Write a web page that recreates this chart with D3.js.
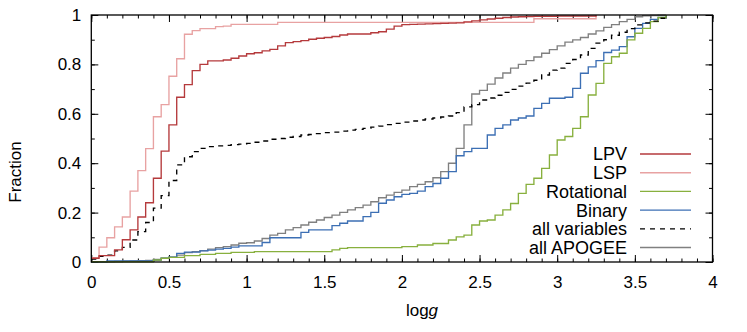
<!DOCTYPE html>
<html>
<head>
<meta charset="utf-8">
<script src="https://cdn.jsdelivr.net/npm/d3@7"></script>
<style>
  body { margin: 0; background: #fff; }
  svg { font-family: "Liberation Sans", Arial, sans-serif; }
  .axis path { display: none; }
  .axis line { stroke: #000; stroke-width: 1; }
  .axis text { font-size: 17px; fill: #000; }
</style>
</head>
<body>
<div id="chart"></div>
<script>
// bin edges in log g (step of 0.05)
var logg = [0,0.05,0.1,0.15,0.2,0.25,0.3,0.35,0.4,0.45,0.5,0.55,0.6,0.65,0.7,0.75,0.8,0.85,0.9,0.95,
  1,1.05,1.1,1.15,1.2,1.25,1.3,1.35,1.4,1.45,1.5,1.55,1.6,1.65,1.7,1.75,1.8,1.85,1.9,1.95,
  2,2.05,2.1,2.15,2.2,2.25,2.3,2.35,2.4,2.45,2.5,2.55,2.6,2.65,2.7,2.75,2.8,2.85,2.9,2.95,
  3,3.05,3.1,3.15,3.2,3.25,3.3,3.35,3.4,3.45,3.5,3.55,3.6,3.65,3.7];

var lpv = [0.015,0.026,0.026,0.049,0.09,0.13,0.182,0.24,0.339,0.449,0.555,0.667,0.718,0.775,0.8,0.814,0.814,0.818,0.825,0.834,
  0.843,0.847,0.855,0.861,0.875,0.888,0.892,0.896,0.902,0.906,0.909,0.913,0.919,0.923,0.923,0.923,0.928,0.932,0.943,0.955,
  0.961,0.962,0.963,0.964,0.965,0.966,0.967,0.968,0.972,0.976,0.98,0.984,0.987,0.99,0.992,0.993,0.994,0.995,0.995,0.995,
  0.996,0.996,0.996,0.996,0.996,1,null,null,null,null,null,null,null,null,null];

var lsp = [0.018,0.06,0.098,0.142,0.182,0.287,0.37,0.459,0.588,0.637,0.752,0.823,0.922,0.937,0.945,0.945,0.953,0.955,0.962,0.962,
  0.962,0.962,0.962,0.962,0.97,0.97,0.97,0.97,0.97,0.97,0.97,0.97,0.97,0.97,0.97,0.97,0.97,0.97,0.97,0.97,
  0.97,0.97,0.97,0.97,0.97,0.97,0.97,0.97,0.97,0.97,0.97,0.97,0.97,0.97,0.97,0.97,0.97,0.985,0.985,0.985,
  0.985,0.985,0.985,0.985,0.985,1,null,null,null,null,null,null,null,null,null];

var rotational = [0.001,0.001,0.001,0.001,0.001,0.001,0.001,0.001,0.008,0.015,0.019,0.019,0.026,0.026,0.031,0.031,0.035,0.035,0.039,0.039,
  0.039,0.042,0.042,0.042,0.042,0.042,0.042,0.042,0.042,0.042,0.042,0.049,0.055,0.058,0.058,0.058,0.058,0.058,0.058,0.058,
  0.062,0.062,0.069,0.069,0.075,0.075,0.089,0.102,0.109,0.15,0.166,0.17,0.19,0.211,0.237,0.278,0.314,0.339,0.379,0.433,
  0.494,0.508,0.541,0.588,0.676,0.723,0.804,0.831,0.845,0.899,0.926,0.946,0.973,0.99,1];

var binary = [0,0,0.004,0.004,0.004,0.004,0.004,0.004,0.008,0.015,0.02,0.035,0.04,0.04,0.045,0.048,0.052,0.055,0.06,0.065,
  0.065,0.065,0.079,0.098,0.098,0.098,0.098,0.12,0.13,0.13,0.13,0.147,0.157,0.166,0.166,0.184,0.201,0.238,0.251,0.264,
  0.274,0.278,0.287,0.305,0.318,0.339,0.366,0.43,0.447,0.46,0.46,0.514,0.541,0.555,0.575,0.583,0.591,0.622,0.642,0.663,
  0.663,0.667,0.703,0.764,0.79,0.815,0.848,0.858,0.872,0.912,0.946,0.966,0.982,0.99,1];

var allVariables = [0.012,0.023,0.028,0.045,0.059,0.089,0.123,0.16,0.218,0.269,0.33,0.393,0.426,0.447,0.46,0.467,0.47,0.472,0.475,0.477,
  0.48,0.485,0.49,0.497,0.5,0.505,0.508,0.514,0.516,0.52,0.524,0.526,0.53,0.534,0.537,0.541,0.546,0.55,0.556,0.561,
  0.566,0.571,0.575,0.579,0.583,0.587,0.591,0.605,0.628,0.637,0.656,0.664,0.675,0.687,0.699,0.712,0.724,0.736,0.757,0.777,
  0.785,0.804,0.82,0.838,0.865,0.886,0.9,0.918,0.93,0.945,0.96,0.968,0.975,0.987,1];

var allApogee = [null,null,0.001,0.002,0.003,0.004,0.005,0.006,0.01,0.015,0.02,0.028,0.038,0.042,0.046,0.052,0.058,0.062,0.069,0.076,
  0.078,0.085,0.095,0.109,0.116,0.13,0.139,0.15,0.161,0.17,0.18,0.19,0.201,0.211,0.22,0.23,0.244,0.26,0.271,0.282,
  0.291,0.305,0.314,0.325,0.341,0.366,0.4,0.46,0.555,0.68,0.695,0.72,0.745,0.765,0.785,0.8,0.815,0.83,0.845,0.86,
  0.875,0.89,0.899,0.909,0.923,0.936,0.95,0.961,0.973,0.982,0.993,0.997,0.998,0.999,1];

var xTicks = [0,0.5,1,1.5,2,2.5,3,3.5,4];
var yTicks = [0,0.2,0.4,0.6,0.8,1];

var series = [
  {name: "all APOGEE", values: allApogee, color: "#808080", dash: null},
  {name: "Binary", values: binary, color: "#3c6fb4", dash: null},
  {name: "Rotational", values: rotational, color: "#88b03e", dash: null},
  {name: "all variables", values: allVariables, color: "#000", dash: "5,5"},
  {name: "LSP", values: lsp, color: "#e8a2a2", dash: null},
  {name: "LPV", values: lpv, color: "#b53a3c", dash: null}
];
var legendOrder = ["LPV", "LSP", "Rotational", "Binary", "all variables", "all APOGEE"];

var W = 747, H = 332;
var margin = {top: 15, right: 34.5, bottom: 70, left: 91.3},
    width = W - margin.left - margin.right,
    height = H - margin.top - margin.bottom;

var svg = d3.select("#chart").append("svg")
    .attr("width", W)
    .attr("height", H);

var g = svg.append("g")
    .attr("transform", "translate(" + margin.left + "," + margin.top + ")");

var x = d3.scaleLinear().domain([0, 4]).range([0, width]);
var y = d3.scaleLinear().domain([0, 1]).range([height, 0]);

var xMinor = d3.range(0, 4.01, 0.1).map(function(d) { return +d.toFixed(1); });
var yMinor = d3.range(0, 1.01, 0.1).map(function(d) { return +d.toFixed(1); });

// minor ticks, all four sides, pointing in
g.append("g").attr("class", "axis").attr("transform", "translate(0," + height + ")")
  .call(d3.axisBottom(x).tickValues(xMinor).tickSize(-3.5).tickFormat(""));
g.append("g").attr("class", "axis")
  .call(d3.axisTop(x).tickValues(xMinor).tickSize(-3.5).tickFormat(""));
g.append("g").attr("class", "axis")
  .call(d3.axisLeft(y).tickValues(yMinor).tickSize(-3.5).tickFormat(""));
g.append("g").attr("class", "axis").attr("transform", "translate(" + width + ",0)")
  .call(d3.axisRight(y).tickValues(yMinor).tickSize(-3.5).tickFormat(""));

// major ticks with labels
g.append("g").attr("class", "axis").attr("transform", "translate(0," + height + ")")
  .call(d3.axisBottom(x).tickValues(xTicks).tickSize(-7).tickPadding(14).tickFormat(d3.format("")));
g.append("g").attr("class", "axis")
  .call(d3.axisTop(x).tickValues(xTicks).tickSize(-7).tickFormat(""));
g.append("g").attr("class", "axis")
  .call(d3.axisLeft(y).tickValues(yTicks).tickSize(-7).tickPadding(10).tickFormat(d3.format("")));
g.append("g").attr("class", "axis").attr("transform", "translate(" + width + ",0)")
  .call(d3.axisRight(y).tickValues(yTicks).tickSize(-7).tickFormat(""));

var line = d3.line()
    .defined(function(d) { return d[1] != null; })
    .x(function(d) { return x(d[0]); })
    .y(function(d) { return y(d[1]); })
    .curve(d3.curveStepAfter);

series.forEach(function(s) {
  g.append("path")
    .datum(logg.map(function(v, i) { return [v, s.values[i]]; }))
    .attr("fill", "none")
    .attr("stroke", s.color)
    .attr("stroke-width", 1.35)
    .attr("stroke-dasharray", s.dash)
    .attr("d", line);
});

// frame
g.append("rect")
  .attr("width", width).attr("height", height)
  .attr("fill", "none").attr("stroke", "#000").attr("stroke-width", 1.3);

// legend
var byName = {};
series.forEach(function(s) { byName[s.name] = s; });
var leg = g.append("g").attr("transform", "translate(" + (627 - margin.left) + "," + (154 - margin.top) + ")");
legendOrder.forEach(function(name, i) {
  var s = byName[name];
  var row = leg.append("g").attr("transform", "translate(0," + (i * 18.7) + ")");
  row.append("text")
    .attr("text-anchor", "end")
    .attr("dy", "0.36em")
    .style("font-size", "18px")
    .text(name);
  row.append("line")
    .attr("x1", 13).attr("x2", 64)
    .attr("stroke", s.color)
    .attr("stroke-width", 1.35)
    .attr("stroke-dasharray", s.dash);
});

// axis titles
var xl = svg.append("text")
  .attr("x", 422)
  .attr("y", 316)
  .attr("text-anchor", "middle")
  .style("font-size", "17px");
xl.append("tspan").text("log");
xl.append("tspan").style("font-style", "italic").text("g");

svg.append("text")
  .attr("transform", "translate(21,172) rotate(-90)")
  .attr("text-anchor", "middle")
  .style("font-size", "17px")
  .text("Fraction");
</script>
</body>
</html>
